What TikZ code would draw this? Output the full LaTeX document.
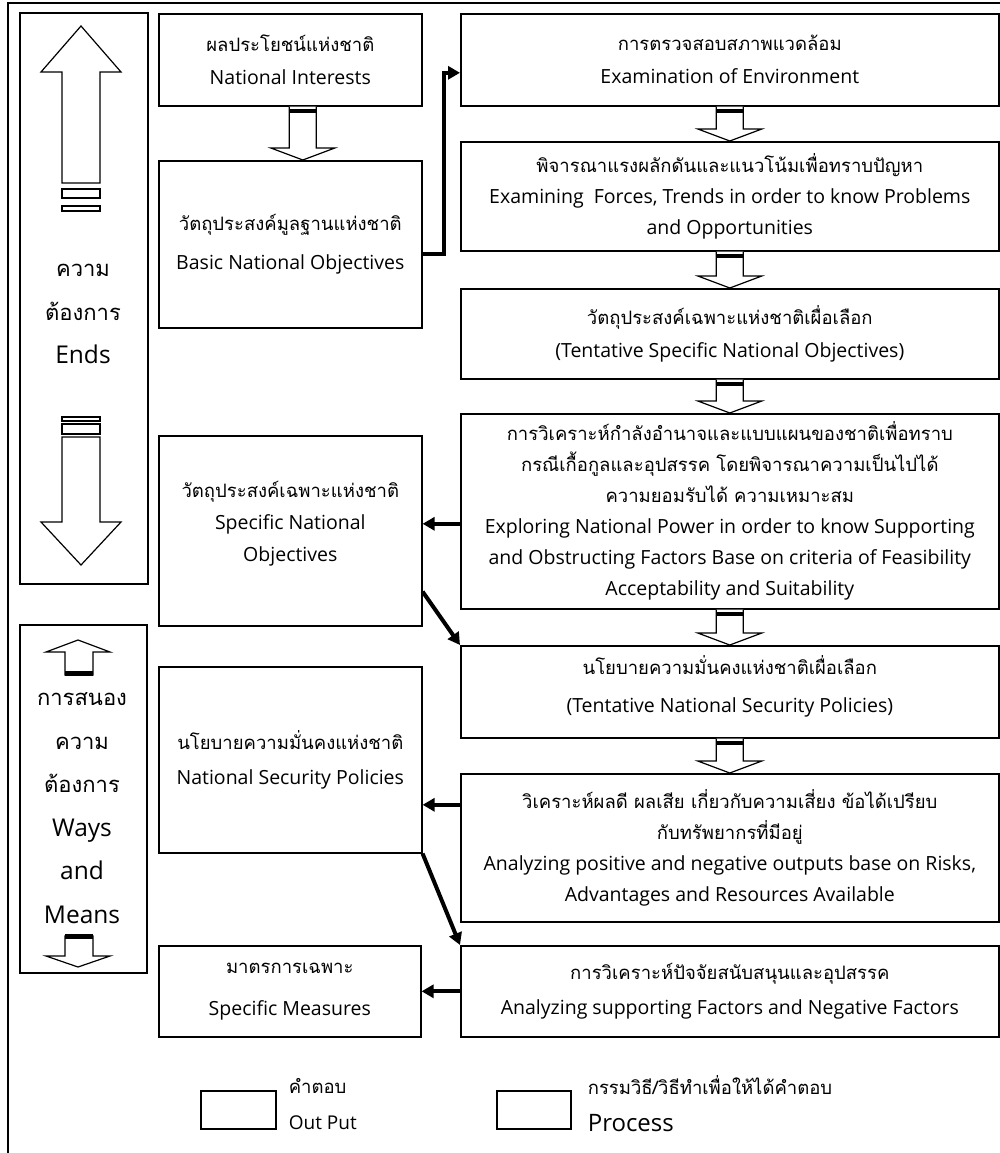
\documentclass[tikz,border=0pt]{standalone}
\usepackage{fontspec}
\setmainfont{Open Sans}
\newfontfamily\thfont[Script=Thai]{Loma}
\usetikzlibrary{arrows.meta,calc}
\newcommand\bfs{\fontsize{19.5}{31}\selectfont}
\newcommand\pfs{\fontsize{24.5}{43.5}\selectfont}
\newcommand\T[1]{{\thfont\fontsize{18.5}{31}\selectfont #1}}
\newcommand\TP[1]{{\thfont\fontsize{22}{43.5}\selectfont #1}}
\tikzset{
  box/.style={draw, line width=1.6pt, fill=white, align=center, font=\bfs, inner sep=0pt, anchor=north west},
  panel/.style={draw, line width=1.6pt, inner sep=0pt, anchor=north west},
  conn/.style={line width=4pt, -{Triangle[length=12pt,width=13pt]}},
  blk/.style={draw, fill=white, line width=1.2pt, line join=miter},
}
% block arrow between two boxes: [x offset]{from}{to}
\newcommand\barrow[3][0pt]{%
  \draw[blk] let \p1=(#2.south), \p2=(#3.north) in
   (\x1+#1-13.5pt,\y1) -- (\x1+#1-13.5pt,\y2+12pt) -- (\x1+#1-32pt,\y2+12pt) -- (\x1+#1,\y2)
   -- (\x1+#1+32pt,\y2+12pt) -- (\x1+#1+13.5pt,\y2+12pt) -- (\x1+#1+13.5pt,\y1);
  \fill let \p1=(#2.south) in (\x1+#1-13.5pt,\y1-2pt) rectangle (\x1+#1+13.5pt,\y1-6pt);
}
\begin{document}
\begin{tikzpicture}[x=1pt,y=-1pt]
\useasboundingbox (0,0) rectangle (1000,1153);
% outer frame (clipped at right and bottom)
\draw[line width=2.2pt] (8,1153) -- (8,3) -- (1000,3);

% left panels
\node[panel, minimum width=128pt, minimum height=571pt] (ends) at (19,12) {};
\node[panel, minimum width=127pt, minimum height=348pt] (ways) at (19,624) {};

% big up arrow
\draw[blk] (62,183) -- (62,72) -- (41,72) -- (81,26) -- (121,72) -- (100,72) -- (100,183) -- cycle;
\draw[line width=1.2pt] (62,189) rectangle (100,198);
\draw[line width=1.2pt] (62,206) rectangle (100,211);
% big down arrow
\draw[line width=1.2pt] (62,417) rectangle (100,421);
\draw[line width=1.2pt] (62,424) rectangle (100,434);
\draw[blk] (62,437) -- (62,522) -- (41,522) -- (81,565) -- (121,522) -- (100,522) -- (100,437) -- cycle;

\node[font=\pfs, align=center] (endstxt) at (83,314) {\TP{ความ}\\\TP{ต้องการ}\\Ends};

% small up arrow
\draw[blk] (65,675) -- (65,652) -- (46,652) -- (78,640) -- (110,652) -- (93,652) -- (93,675) -- cycle;
\fill (65,671) rectangle (93,676);
% small down arrow
\draw[blk] (65,936) -- (65,956) -- (46,956) -- (78,967) -- (110,956) -- (93,956) -- (93,936) -- cycle;
\fill (65,934) rectangle (93,939);

\node[font=\pfs, align=center] (waystxt) at (82,808) {\TP{การสนอง}\\\TP{ความ}\\\TP{ต้องการ}\\Ways\\and\\Means};

% left column boxes
\node[box, minimum width=263pt, minimum height=92pt] (b1) at (158,13)
  {\T{ผลประโยชน์แห่งชาติ}\\[2pt]National Interests};
\node[box, minimum width=263pt, minimum height=167pt] (b2) at (158,160)
  {\T{วัตถุประสงค์มูลฐานแห่งชาติ}\\[8pt]Basic National Objectives};
\node[box, minimum width=263pt, minimum height=190pt] (b3) at (158,435)
  {\T{วัตถุประสงค์เฉพาะแห่งชาติ}\\[1pt]Specific National\\[1pt]Objectives\\[-12pt]\mbox{}};
\node[box, minimum width=263pt, minimum height=186pt] (b4) at (158,666)
  {\T{นโยบายความมั่นคงแห่งชาติ}\\[4pt]National Security Policies};
\node[box, minimum width=262pt, minimum height=91pt] (b5) at (158,945)
  {\T{มาตรการเฉพาะ}\\[11pt]Specific Measures};

% right column boxes
\node[box, minimum width=538pt, minimum height=92pt] (r1) at (460,13)
  {\T{การตรวจสอบสภาพแวดล้อม}\\[2pt]Examination of Environment};
\node[box, minimum width=538pt, minimum height=109pt] (r2) at (460,141)
  {\T{พิจารณาแรงผลักดันและแนวโน้มเพื่อทราบปัญหา}\\Examining\ \ Forces, Trends in order to know Problems\\and Opportunities};
\node[box, minimum width=538pt, minimum height=90pt] (r3) at (460,288)
  {\T{วัตถุประสงค์เฉพาะแห่งชาติเผื่อเลือก}\\[2pt](Tentative Specific National Objectives)};
\node[box, minimum width=538pt, minimum height=195pt] (r4) at (460,413)
  {\T{การวิเคราะห์กำลังอำนาจและแบบแผนของชาติเพื่อทราบ}\\\T{กรณีเกื้อกูลและอุปสรรค โดยพิจารณาความเป็นไปได้}\\\T{ความยอมรับได้ ความเหมาะสม}\\Exploring National Power in order to know Supporting\\and Obstructing Factors Base on criteria of Feasibility\\Acceptability and Suitability};
\node[box, minimum width=538pt, minimum height=92pt] (r5) at (460,645)
  {\mbox{}\\[-22pt]\T{นโยบายความมั่นคงแห่งชาติเผื่อเลือก}\\[7pt](Tentative National Security Policies)};
\node[box, minimum width=538pt, minimum height=148pt] (r6) at (460,773)
  {\T{วิเคราะห์ผลดี ผลเสีย เกี่ยวกับความเสี่ยง ข้อได้เปรียบ}\\\T{กับทรัพยากรที่มีอยู่}\\Analyzing positive and negative outputs base on Risks,\\Advantages and Resources Available};
\node[box, minimum width=538pt, minimum height=91pt] (r7) at (460,945)
  {\T{การวิเคราะห์ปัจจัยสนับสนุนและอุปสรรค}\\[4pt]Analyzing supporting Factors and Negative Factors};

% block arrows
\barrow[12.5pt]{b1}{b2}
\barrow{r1}{r2}
\barrow{r2}{r3}
\barrow{r3}{r4}
\barrow{r4}{r5}
\barrow{r5}{r6}

% thick connectors
\draw[conn, line join=miter] ([yshift=-9.5pt]b2.east) -- ++(21,0) |- ([yshift=-13pt]r1.west);
\coordinate (a1) at ([yshift=-12.5pt]r4.west);
\draw[conn] (a1) -- (a1 -| b3.east);
\draw[conn] ([yshift=35pt]b3.south east) -- (r5.north west);
\coordinate (a2) at ([yshift=43pt]r6.west);
\draw[conn] (a2) -- (a2 -| b4.east);
\draw[conn] (b4.south east) -- (r7.north west);
\draw[conn] (r7.west) -- (r7.west -| b5.east);

% legend
\node[panel, minimum width=75pt, minimum height=38pt] (lg1) at (200,1090) {};
\node[anchor=west, inner sep=0pt] (lg1a) at ([xshift=12pt,yshift=4pt]lg1.north east) {\T{คำตอบ}};
\node[anchor=west, inner sep=0pt, font=\fontsize{19}{22}\selectfont] (lg1b) at ([xshift=12pt,yshift=7pt]lg1.south east) {Out Put};
\node[panel, minimum width=74pt, minimum height=38pt] (lg2) at (496,1090) {};
\node[anchor=west, inner sep=0pt] (lg2a) at ([xshift=16pt,yshift=5pt]lg2.north east) {\T{กรรมวิธี/วิธีทำเพื่อให้ได้คำตอบ}};
\node[anchor=west, inner sep=0pt, font=\fontsize{24}{26}\selectfont] (lg2b) at ([xshift=16pt,yshift=7pt]lg2.south east) {Process};
\end{tikzpicture}
\end{document}
